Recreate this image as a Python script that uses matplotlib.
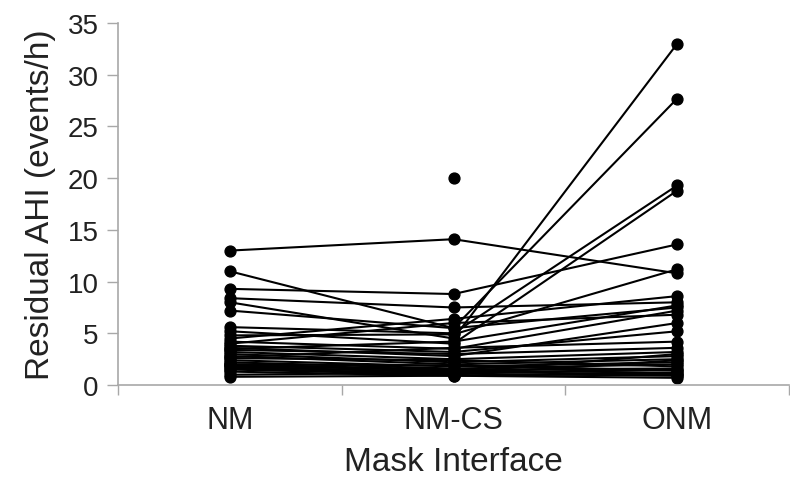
import numpy as np
import matplotlib
matplotlib.use("Agg")
import matplotlib.pyplot as plt

plt.rcParams['font.family'] = ['Liberation Sans', 'DejaVu Sans']

categories = ["NM", "NM-CS", "ONM"]

# Residual AHI per subject for each mask interface (NaN = not measured)
nm = [13.0, 11.0, 9.3, 8.4, 8.0, 7.2, 5.6, 5.2, 4.8, 4.5, 4.2, 4.0, 3.8, 3.6,
      3.4, 3.2, 3.0, 2.8, 2.6, 2.4, 2.2, 2.0, 2.0, 1.9, 1.8, 1.7, 1.6, 1.5,
      1.3, 1.0, 0.8, 3.5, 2.7, np.nan]
nm_cs = [14.1, 5.5, 8.8, 7.5, 4.5, 5.5, 5.0, 4.0, 4.9, 6.4, 3.5, 6.0, 3.2, 2.8,
         3.0, 2.5, 2.2, 2.0, 2.4, 1.8, 1.6, 1.5, 1.9, 1.4, 1.2, 1.3, 1.1, 1.0,
         0.9, 1.2, 0.9, 4.2, 3.6, 20.0]
onm = [10.8, 7.5, 13.6, 8.0, 33.0, 27.7, 19.3, 18.8, 11.2, 8.6, 7.2, 6.8, 5.2,
       6.0, 3.6, 3.2, 2.8, 2.5, 1.8, 2.2, 2.0, 1.6, 1.4, 1.2, 3.0, 1.0, 0.9,
       2.4, 0.7, 1.5, 1.1, 7.7, 4.2, np.nan]

y_ticks = [0, 5, 10, 15, 20, 25, 30, 35]

fig = plt.figure(figsize=(7.9, 4.85), dpi=100)
ax = fig.add_axes([0.1494, 0.204, 0.8494, 0.7465])

x = np.arange(len(categories))
for a, b, c in zip(nm, nm_cs, onm):
    ax.plot(x, [a, b, c], color="black", lw=1.5, marker="o", ms=7.8,
            mfc="black", mec="black", solid_capstyle="round")

ax.set_xlim(-0.5, 2.5)
ax.set_ylim(0, 35)
ax.set_yticks(y_ticks)
ax.set_yticklabels([str(t) for t in y_ticks])

ax.set_xticks([-0.5, 0.5, 1.5, 2.5])
ax.set_xticklabels([])
ax.set_xticks(x, minor=True)
ax.set_xticklabels(categories, minor=True)

spine_col = "#a8a8a8"
for side in ["top", "right"]:
    ax.spines[side].set_visible(False)
for side in ["left", "bottom"]:
    ax.spines[side].set_color(spine_col)
    ax.spines[side].set_linewidth(1.2)

ax.tick_params(axis="y", which="major", direction="out", length=8, width=1,
               color=spine_col, labelsize=20, labelcolor="#222222", pad=6)
ax.tick_params(axis="x", which="major", direction="out", length=7, width=1,
               color=spine_col)
ax.tick_params(axis="x", which="minor", length=0, labelsize=22,
               labelcolor="#222222", pad=14)

ax.set_ylabel("Residual AHI (events/h)", fontsize=24, color="#222222", labelpad=8)
ax.set_xlabel("Mask Interface", fontsize=24, color="#222222", labelpad=8)

fig.savefig("out.png", dpi=100)
